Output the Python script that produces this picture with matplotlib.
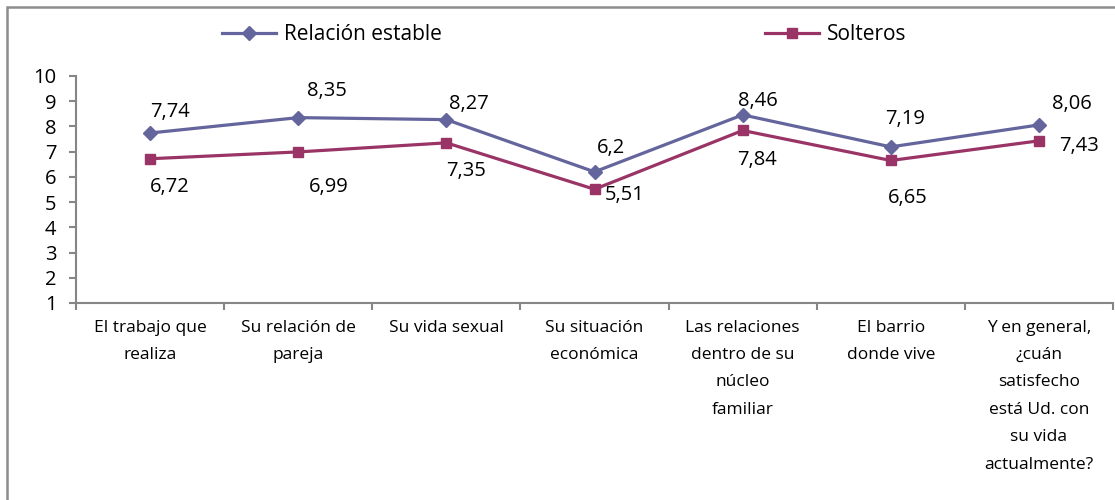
import matplotlib.pyplot as plt
from matplotlib.patches import Rectangle

categorias = ["El trabajo que\nrealiza", "Su relación de\npareja", "Su vida sexual",
              "Su situación\neconómica", "Las relaciones\ndentro de su\nnúcleo\nfamiliar",
              "El barrio\ndonde vive",
              "Y en general,\n¿cuán\nsatisfecho\nestá Ud. con\nsu vida\nactualmente?"]
relacion = [7.74, 8.35, 8.27, 6.2, 8.46, 7.19, 8.06]
solteros = [6.72, 6.99, 7.35, 5.51, 7.84, 6.65, 7.43]
etiq_rel = ["7,74", "8,35", "8,27", "6,2", "8,46", "7,19", "8,06"]
etiq_sol = ["6,72", "6,99", "7,35", "5,51", "7,84", "6,65", "7,43"]

# label offsets in points
off_rel = [(14, 15), (21, 19), (16, 11), (12, 17), (11, 10), (10, 20), (24, 15)]
off_sol = [(14, -20), (22, -25), (14, -20), (22, -4), (10, -21), (12, -27), (29, -4)]

plt.rcParams['font.family'] = ['Open Sans', 'DejaVu Sans']
azul = '#64659c'
rojo = '#9a3467'
gris = '#868686'

fig = plt.figure(figsize=(11.15, 5), dpi=100)
ax = fig.add_axes([0.0682, 0.394, 0.9300, 0.454])

x = list(range(len(categorias)))
ax.plot(x, relacion, color=azul, lw=2.3, marker='D', ms=7.5, label='Relación estable')
ax.plot(x, solteros, color=rojo, lw=2.3, marker='s', ms=7.5, label='Solteros')

for i in x:
    ax.annotate(etiq_rel[i], (i, relacion[i]), xytext=off_rel[i], textcoords='offset points',
                ha='center', va='center', fontsize=14.5)
    ax.annotate(etiq_sol[i], (i, solteros[i]), xytext=off_sol[i], textcoords='offset points',
                ha='center', va='center', fontsize=14.5)

ax.set_xlim(-0.5, len(categorias) - 0.5)
ax.set_ylim(1, 10)
ax.set_yticks(range(1, 11))
ax.set_xticks(x)
ax.set_xticklabels(categorias, fontsize=12.5, linespacing=1.95, va='top')
ax.set_xticks([i - 0.5 for i in range(len(categorias) + 1)], minor=True)
ax.tick_params(axis='x', which='major', length=0, pad=12)
ax.tick_params(axis='x', which='minor', length=5, color=gris, width=1.5)
ax.tick_params(axis='y', length=5, color=gris, width=1.5, labelsize=14.5, pad=9)
for s in ['top', 'right']:
    ax.spines[s].set_visible(False)
for s in ['left', 'bottom']:
    ax.spines[s].set_color(gris)
    ax.spines[s].set_linewidth(1.5)

ax.legend(ncol=2, frameon=False, loc='center', fontsize=15, handlelength=2.6,
          columnspacing=15.5, handletextpad=0.4)
leg = ax.get_legend()
leg.set_bbox_to_anchor((0.506, 0.93), transform=fig.transFigure)

fig.patches.append(Rectangle((7 / 1115, -0.1), 1.2, 1 - 7 / 500 + 0.1, transform=fig.transFigure,
                             fill=False, edgecolor='#8c8c8c', lw=1.8))

fig.savefig('out.png', dpi=100)
